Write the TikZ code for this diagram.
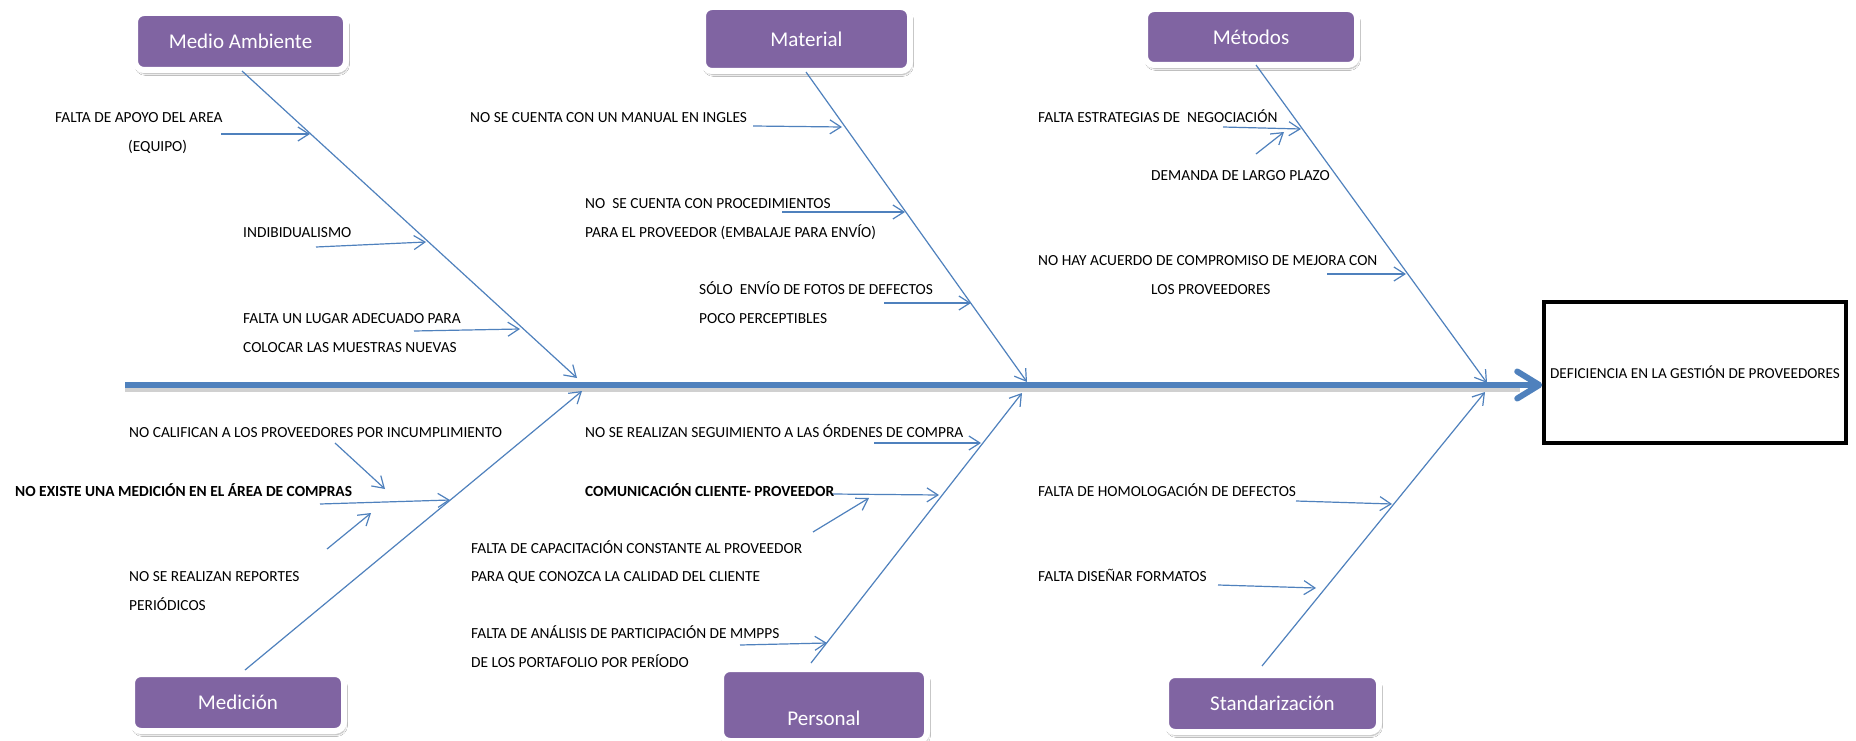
\documentclass[tikz,border=0pt]{standalone}
\usepackage{fontspec}
\setmainfont{Carlito}
\usetikzlibrary{arrows.meta,shadows.blur}
\definecolor{catpurple}{HTML}{8064A2}
\definecolor{bonblue}{HTML}{4F81BD}
\begin{document}
\begin{tikzpicture}[x=1pt,y=-1pt,
  catbox/.style={draw=white, line width=6pt, fill=catpurple, rounded corners=9pt,
    inner sep=0pt, text=white, font=\fontsize{21}{25}\selectfont,
    blur shadow={shadow xshift=1.5pt, shadow yshift=-3.5pt, shadow opacity=35, shadow blur steps=6}},
  cattext/.style={inner sep=0pt, text=white, font=\fontsize{21}{25}\selectfont},
  cause/.style={anchor=base west, inner sep=0pt, font=\fontsize{15.4}{18}\selectfont},
  causeb/.style={cause, font=\fontsize{15.4}{18}\selectfont\bfseries},
  bone/.style={draw=bonblue, line width=1.2pt, -{Straight Barb[length=11pt,width=14pt]}},
  spine/.style={draw=bonblue, line width=6pt, -{Straight Barb[length=22pt,width=27pt,round]}},
  effectbox/.style={draw=black, line width=3.5pt, inner sep=0pt, font=\fontsize{15.2}{18}\selectfont},
]
\useasboundingbox (0,0) rectangle (1856,741);
\fill[white] (0,0) rectangle (1856,741);

% category boxes
\node[catbox, minimum width=211pt, minimum height=57pt] (ambiente) at (240.5,41.5) {Medio Ambiente};
\node[catbox, minimum width=207pt, minimum height=64pt] (material) at (806.5,39) {Material};
\node[catbox, minimum width=212pt, minimum height=56pt] (metodos) at (1251,37) {Métodos};
\node[catbox, minimum width=212pt, minimum height=57pt] (medicion) at (238,702.5) {Medición};
\node[catbox, minimum width=206pt, minimum height=72pt] (personal) at (824,705) {};
\node[cattext] (personaltxt) at (824,718) {Personal};
\node[catbox, minimum width=213pt, minimum height=57pt] (standar) at (1272.5,703.5) {Standarización};

% effect
\node[effectbox, minimum width=302pt, minimum height=141pt] (effect) at (1695,372.5)
  {DEFICIENCIA EN LA GESTIÓN DE PROVEEDORES};

% spine with its soft shadow
\coordinate (tail) at (125,385);
\draw[line width=5pt, black!30, opacity=.6] (125,389.5) -- (1520,389.5);
\draw[spine] (tail) -- (effect.west |- tail);

% main bones
\coordinate (ambS) at (242,71);   \coordinate (ambE) at (577,378);
\coordinate (matS) at (806,72);   \coordinate (matE) at (1027,382);
\coordinate (metS) at (1256,65);  \coordinate (metE) at (1487,383);
\coordinate (medS) at (245,670);  \coordinate (medE) at (582,391);
\coordinate (perS) at (811,663);  \coordinate (perE) at (1022,393);
\coordinate (staS) at (1262,666); \coordinate (staE) at (1485,392);
\draw[bone] (ambS) -- (ambE);
\draw[bone] (matS) -- (matE);
\draw[bone] (metS) -- (metE);
\draw[bone] (medS) -- (medE);
\draw[bone] (perS) -- (perE);
\draw[bone] (staS) -- (staE);

% cause arrows
\coordinate (a1s) at (221,134); \coordinate (a1e) at (310,134);
\coordinate (a2s) at (316,247); \coordinate (a2e) at (426,242);
\coordinate (a3s) at (414,331); \coordinate (a3e) at (520,329);
\coordinate (b1s) at (753,126); \coordinate (b1e) at (842,127);
\coordinate (b2s) at (782,212); \coordinate (b2e) at (905,212);
\coordinate (b3s) at (884,303); \coordinate (b3e) at (971,303);
\coordinate (c1s) at (1223,127); \coordinate (c1e) at (1301,129);
\coordinate (c2s) at (1256,154); \coordinate (c2e) at (1284,132);
\coordinate (c3s) at (1327,274); \coordinate (c3e) at (1406,274);
\coordinate (d1s) at (335,443); \coordinate (d1e) at (385,489);
\coordinate (d2s) at (320,504); \coordinate (d2e) at (450,500);
\coordinate (d3s) at (327,549); \coordinate (d3e) at (371,513);
\coordinate (e1s) at (874,443); \coordinate (e1e) at (981,443);
\coordinate (e2s) at (832,494); \coordinate (e2e) at (939,495);
\coordinate (e3s) at (813,532); \coordinate (e3e) at (869,498);
\coordinate (e4s) at (740,645); \coordinate (e4e) at (827,643);
\coordinate (f1s) at (1296,501); \coordinate (f1e) at (1392,504);
\coordinate (f2s) at (1218,585); \coordinate (f2e) at (1316,588);
\foreach \a in {a1,a2,a3,b1,b2,b3,c1,c2,c3,d1,d2,d3,e1,e2,e3,e4,f1,f2}
  \draw[bone] (\a s) -- (\a e);

% cause labels
\node[cause] (t1a) at (55,123) {FALTA DE APOYO DEL AREA};
\node[cause] (t1b) at (128,152) {(EQUIPO)};
\node[cause] (t2) at (243,237) {INDIBIDUALISMO};
\node[cause] (t3a) at (243,323) {FALTA UN LUGAR ADECUADO PARA};
\node[cause] (t3b) at (243,352) {COLOCAR LAS MUESTRAS NUEVAS};
\node[cause] (t4) at (470,123) {NO SE CUENTA CON UN MANUAL EN INGLES};
\node[cause] (t5a) at (585,208) {NO\ \ SE CUENTA CON PROCEDIMIENTOS};
\node[cause] (t5b) at (585,237) {PARA EL PROVEEDOR (EMBALAJE PARA ENVÍO)};
\node[cause] (t6a) at (699,294) {SÓLO\ \ ENVÍO DE FOTOS DE DEFECTOS};
\node[cause] (t6b) at (699,323) {POCO PERCEPTIBLES};
\node[cause] (t7) at (1038,123) {FALTA ESTRATEGIAS DE\ \ NEGOCIACIÓN};
\node[cause] (t8) at (1151,180) {DEMANDA DE LARGO PLAZO};
\node[cause] (t9a) at (1038,265) {NO HAY ACUERDO DE COMPROMISO DE MEJORA CON};
\node[cause] (t9b) at (1151,294) {LOS PROVEEDORES};
\node[cause] (t10) at (129,437) {NO CALIFICAN A LOS PROVEEDORES POR INCUMPLIMIENTO};
\node[causeb] (t11) at (15,496) {NO EXISTE UNA MEDICIÓN EN EL ÁREA DE COMPRAS};
\node[cause] (t12a) at (129,581) {NO SE REALIZAN REPORTES};
\node[cause] (t12b) at (129,610) {PERIÓDICOS};
\node[cause] (t13) at (585,437) {NO SE REALIZAN SEGUIMIENTO A LAS ÓRDENES DE COMPRA};
\node[causeb] (t14) at (585,496) {COMUNICACIÓN CLIENTE- PROVEEDOR};
\node[cause] (t15a) at (471,553) {FALTA DE CAPACITACIÓN CONSTANTE AL PROVEEDOR};
\node[cause] (t15b) at (471,581) {PARA QUE CONOZCA LA CALIDAD DEL CLIENTE};
\node[cause] (t16a) at (471,638) {FALTA DE ANÁLISIS DE PARTICIPACIÓN DE MMPPS};
\node[cause] (t16b) at (471,667) {DE LOS PORTAFOLIO POR PERÍODO};
\node[cause] (t17) at (1038,496) {FALTA DE HOMOLOGACIÓN DE DEFECTOS};
\node[cause] (t18) at (1038,581) {FALTA DISEÑAR FORMATOS};
\end{tikzpicture}
\end{document}
